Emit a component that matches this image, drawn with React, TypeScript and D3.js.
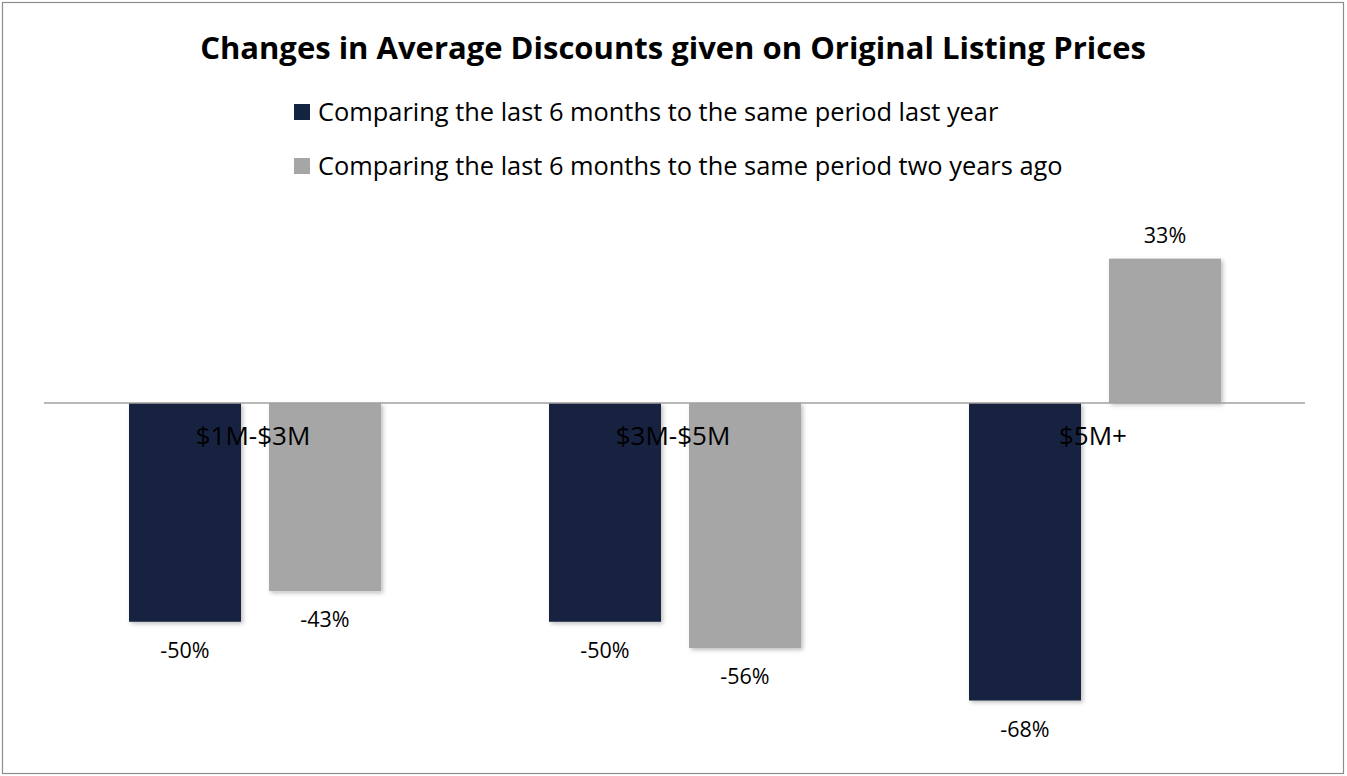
import React, { useEffect, useRef } from 'react';
import * as d3 from 'd3';

const categories = ['$1M-$3M', '$3M-$5M', '$5M+'];
const seriesNames = [
  'Comparing the last 6 months to the same period last year',
  'Comparing the last 6 months to the same period two years ago',
];
const lastYear = [-50, -50, -68];
const twoYearsAgo = [-43, -56, 33];
const colors = ['#12243f', '#a6a6a6'];

const W = 1347;
const H = 776;
const FONT = '"Open Sans", Lato, "DejaVu Sans", sans-serif';

const App: React.FC = () => {
  const svgRef = useRef<SVGSVGElement>(null);

  useEffect(() => {
    if (!svgRef.current) return;
    const svg = d3.select(svgRef.current);
    svg.selectAll('*').remove();

    const defs = svg.append('defs');
    const filter = defs.append('filter')
      .attr('id', 'shadow')
      .attr('x', '-10%').attr('y', '-10%')
      .attr('width', '130%').attr('height', '130%');
    filter.append('feDropShadow')
      .attr('dx', 2).attr('dy', 2)
      .attr('stdDeviation', 2)
      .attr('flood-color', '#000')
      .attr('flood-opacity', 0.25);

    svg.append('rect')
      .attr('width', W).attr('height', H)
      .attr('fill', '#fff');

    // outer frame
    svg.append('rect')
      .attr('x', 2.5).attr('y', 2.5)
      .attr('width', 1341).attr('height', 771)
      .attr('fill', 'none')
      .attr('stroke', '#8c8c8c')
      .attr('stroke-width', 1.2);

    // title
    svg.append('text')
      .attr('x', 673)
      .attr('y', 59)
      .attr('text-anchor', 'middle')
      .style('font-family', FONT)
      .style('font-size', '31px')
      .style('font-weight', 'bold')
      .attr('fill', '#000')
      .text('Changes in Average Discounts given on Original Listing Prices');

    // legend
    seriesNames.forEach((name, i) => {
      const ly = 104 + i * 54;
      svg.append('rect')
        .attr('x', 294).attr('y', ly)
        .attr('width', 16).attr('height', 16)
        .attr('fill', colors[i]);
      svg.append('text')
        .attr('x', 318)
        .attr('y', ly + 17)
        .style('font-family', FONT)
        .style('font-size', '25.4px')
        .attr('fill', '#000')
        .text(name);
    });

    const x0 = d3.scaleBand<string>()
      .domain(categories)
      .range([45, 1305])
      .paddingInner(0)
      .paddingOuter(0);

    const x1 = d3.scaleBand<number>()
      .domain([0, 1])
      .range([84, 336])
      .paddingInner(0.2)
      .paddingOuter(0);

    const y = d3.scaleLinear()
      .domain([-80, 40])
      .range([403 + 80 * 4.375, 403 - 40 * 4.375]);

    const rows = categories.map((c, i) => ({ cat: c, values: [lastYear[i], twoYearsAgo[i]] }));

    const groups = svg.append('g')
      .selectAll('g')
      .data(rows)
      .enter().append('g')
      .attr('transform', d => `translate(${x0(d.cat)},0)`);

    groups.selectAll('rect')
      .data(d => d.values.map((v, s) => ({ v, s })))
      .enter().append('rect')
      .attr('x', d => x1(d.s)!)
      .attr('width', x1.bandwidth())
      .attr('y', d => y(Math.max(0, d.v)))
      .attr('height', d => Math.abs(y(d.v) - y(0)))
      .attr('fill', d => colors[d.s])
      .attr('filter', 'url(#shadow)');

    // zero axis line
    svg.append('line')
      .attr('x1', 44).attr('x2', 1305)
      .attr('y1', y(0)).attr('y2', y(0))
      .attr('stroke', '#a0a0a0')
      .attr('stroke-width', 1.5);

    // value labels
    groups.selectAll('text.val')
      .data(d => d.values.map((v, s) => ({ v, s })))
      .enter().append('text')
      .attr('class', 'val')
      .attr('x', d => x1(d.s)! + x1.bandwidth() / 2)
      .attr('y', d => d.v < 0 ? y(d.v) + 36 : y(d.v) - 16)
      .attr('text-anchor', 'middle')
      .style('font-family', FONT)
      .style('font-size', '21.5px')
      .attr('fill', '#000')
      .text(d => `${d.v}%`);

    // category labels
    svg.append('g')
      .selectAll('text')
      .data(categories)
      .enter().append('text')
      .attr('x', d => x0(d)! + x0.bandwidth() / 2 - 2)
      .attr('y', y(0) + 42)
      .attr('text-anchor', 'middle')
      .style('font-family', FONT)
      .style('font-size', '26px')
      .attr('fill', '#000')
      .text(d => d);
  }, []);

  return (
    <svg
      ref={svgRef}
      width={W}
      height={H}
      style={{ position: 'absolute', left: 0, top: 0, display: 'block' }}
    />
  );
};

export default App;
